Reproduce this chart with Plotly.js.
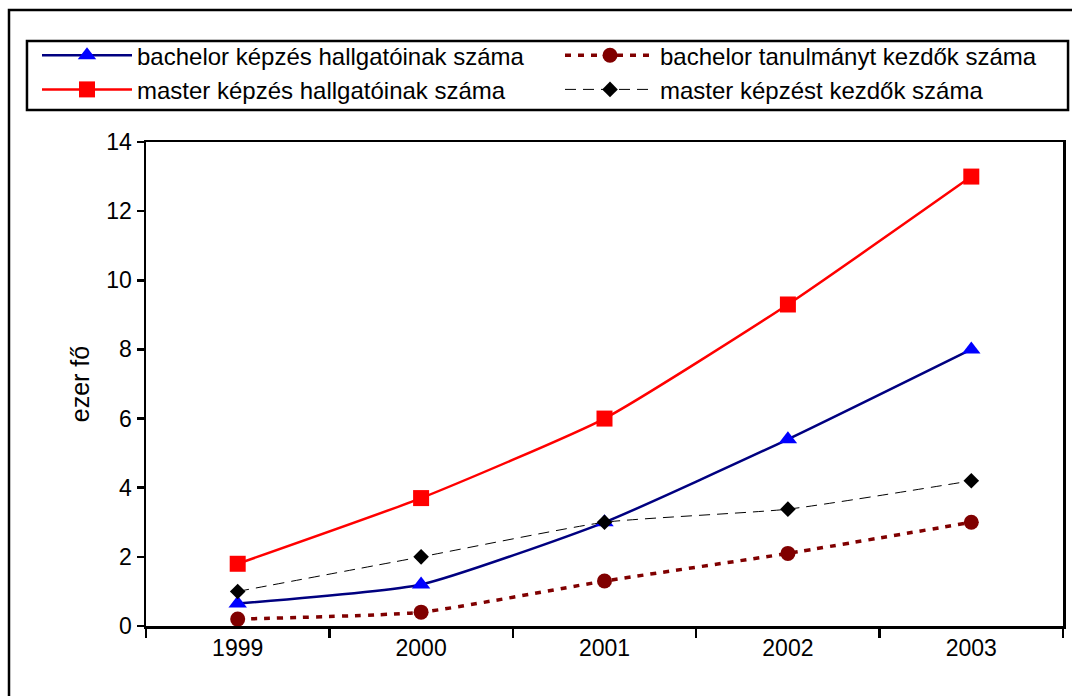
<!DOCTYPE html>
<html>
<head>
<meta charset="utf-8">
<script src="https://cdn.plot.ly/plotly-3.0.1.min.js"></script>
<style>
  html, body { margin: 0; padding: 0; background: #fff; }
  #chart { width: 1072px; height: 696px; }
</style>
</head>
<body>
<div id="chart"></div>
<script>
// Data
const years = ['1999', '2000', '2001', '2002', '2003'];
const bachelorStudents = [0.65, 1.2, 3.0, 5.4, 8.0];
const bachelorEntrants = [0.2, 0.4, 1.3, 2.1, 3.0];
const masterStudents = [1.8, 3.7, 6.0, 9.3, 13.0];
const masterEntrants = [1.0, 2.0, 3.0, 3.38, 4.2];

const seriesNames = [
  'bachelor képzés hallgatóinak száma',
  'bachelor tanulmányt kezdők száma',
  'master képzés hallgatóinak száma',
  'master képzést kezdők száma'
];
const yTitle = 'ezer fő';

const FONT = 'Liberation Sans, Arial, sans-serif';

const traces = [
  {
    x: years, y: bachelorStudents, name: seriesNames[0], type: 'scatter', mode: 'lines+markers',
    legend: 'legend',
    line: { color: '#000080', width: 2.5, shape: 'spline', smoothing: 0.5 },
    marker: { symbol: 'triangle-up', size: 16, color: '#0000FF' }
  },
  {
    x: years, y: bachelorEntrants, name: seriesNames[1], type: 'scatter', mode: 'lines+markers',
    legend: 'legend2',
    line: { color: '#800000', width: 3.5, dash: '6px,7px', shape: 'spline', smoothing: 0.5 },
    marker: { symbol: 'circle', size: 15, color: '#800000' }
  },
  {
    x: years, y: masterStudents, name: seriesNames[2], type: 'scatter', mode: 'lines+markers',
    legend: 'legend',
    line: { color: '#FF0000', width: 2.5, shape: 'spline', smoothing: 0.5 },
    marker: { symbol: 'square', size: 16, color: '#FF0000' }
  },
  {
    x: years, y: masterEntrants, name: seriesNames[3], type: 'scatter', mode: 'lines+markers',
    legend: 'legend2',
    line: { color: '#000000', width: 1, dash: '11px,7px', shape: 'spline', smoothing: 0.5 },
    marker: { symbol: 'diamond', size: 12, color: '#000000' }
  }
];

const legendCommon = {
  orientation: 'v',
  xanchor: 'left',
  yanchor: 'top',
  y: 1.225,
  itemwidth: 90,
  traceorder: 'normal',
  font: { family: FONT, size: 24, color: '#000000' },
  bgcolor: 'rgba(0,0,0,0)',
  borderwidth: 0
};

const layout = {
  width: 1072,
  height: 696,
  margin: { l: 146, r: 9, t: 142, b: 70 },
  paper_bgcolor: '#ffffff',
  plot_bgcolor: '#ffffff',
  font: { family: FONT, size: 23, color: '#000000' },
  showlegend: true,
  legend: Object.assign({}, legendCommon, { x: (37 - 146) / 917 }),
  legend2: Object.assign({}, legendCommon, { x: (560 - 146) / 917 }),
  xaxis: {
    type: 'category',
    range: [-0.5, 4.5],
    tickson: 'boundaries',
    ticks: 'outside',
    ticklen: 9,
    tickwidth: 2.5,
    tickcolor: '#000',
    showline: true,
    linecolor: '#000',
    linewidth: 2.5,
    mirror: true,
    showgrid: false,
    zeroline: false,
    fixedrange: true,
    tickfont: { family: FONT, size: 23, color: '#000' }
  },
  yaxis: {
    range: [0, 14],
    dtick: 2,
    tick0: 0,
    ticks: 'outside',
    ticklen: 7,
    tickwidth: 2.5,
    tickcolor: '#000',
    showline: true,
    linecolor: '#000',
    linewidth: 2.5,
    mirror: true,
    showgrid: false,
    zeroline: false,
    fixedrange: true,
    tickfont: { family: FONT, size: 23, color: '#000' },
    title: { text: yTitle, font: { family: FONT, size: 25, color: '#000' }, standoff: 10 }
  },
  shapes: [
    // legend box
    { type: 'rect', xref: 'paper', yref: 'paper',
      x0: -0.1298, x1: 1.0055, y0: 1.0661, y1: 1.2087,
      line: { color: '#000', width: 2.5 }, fillcolor: 'rgba(0,0,0,0)' },
    // outer chart frame
    { type: 'rect', xref: 'paper', yref: 'paper',
      x0: -0.1494, x1: 1.05, y0: -0.25, y1: 1.2727,
      line: { color: '#000', width: 2.5 }, fillcolor: 'rgba(0,0,0,0)' }
  ]
};

Plotly.newPlot('chart', traces, layout, { displayModeBar: false, staticPlot: true });
</script>
</body>
</html>
